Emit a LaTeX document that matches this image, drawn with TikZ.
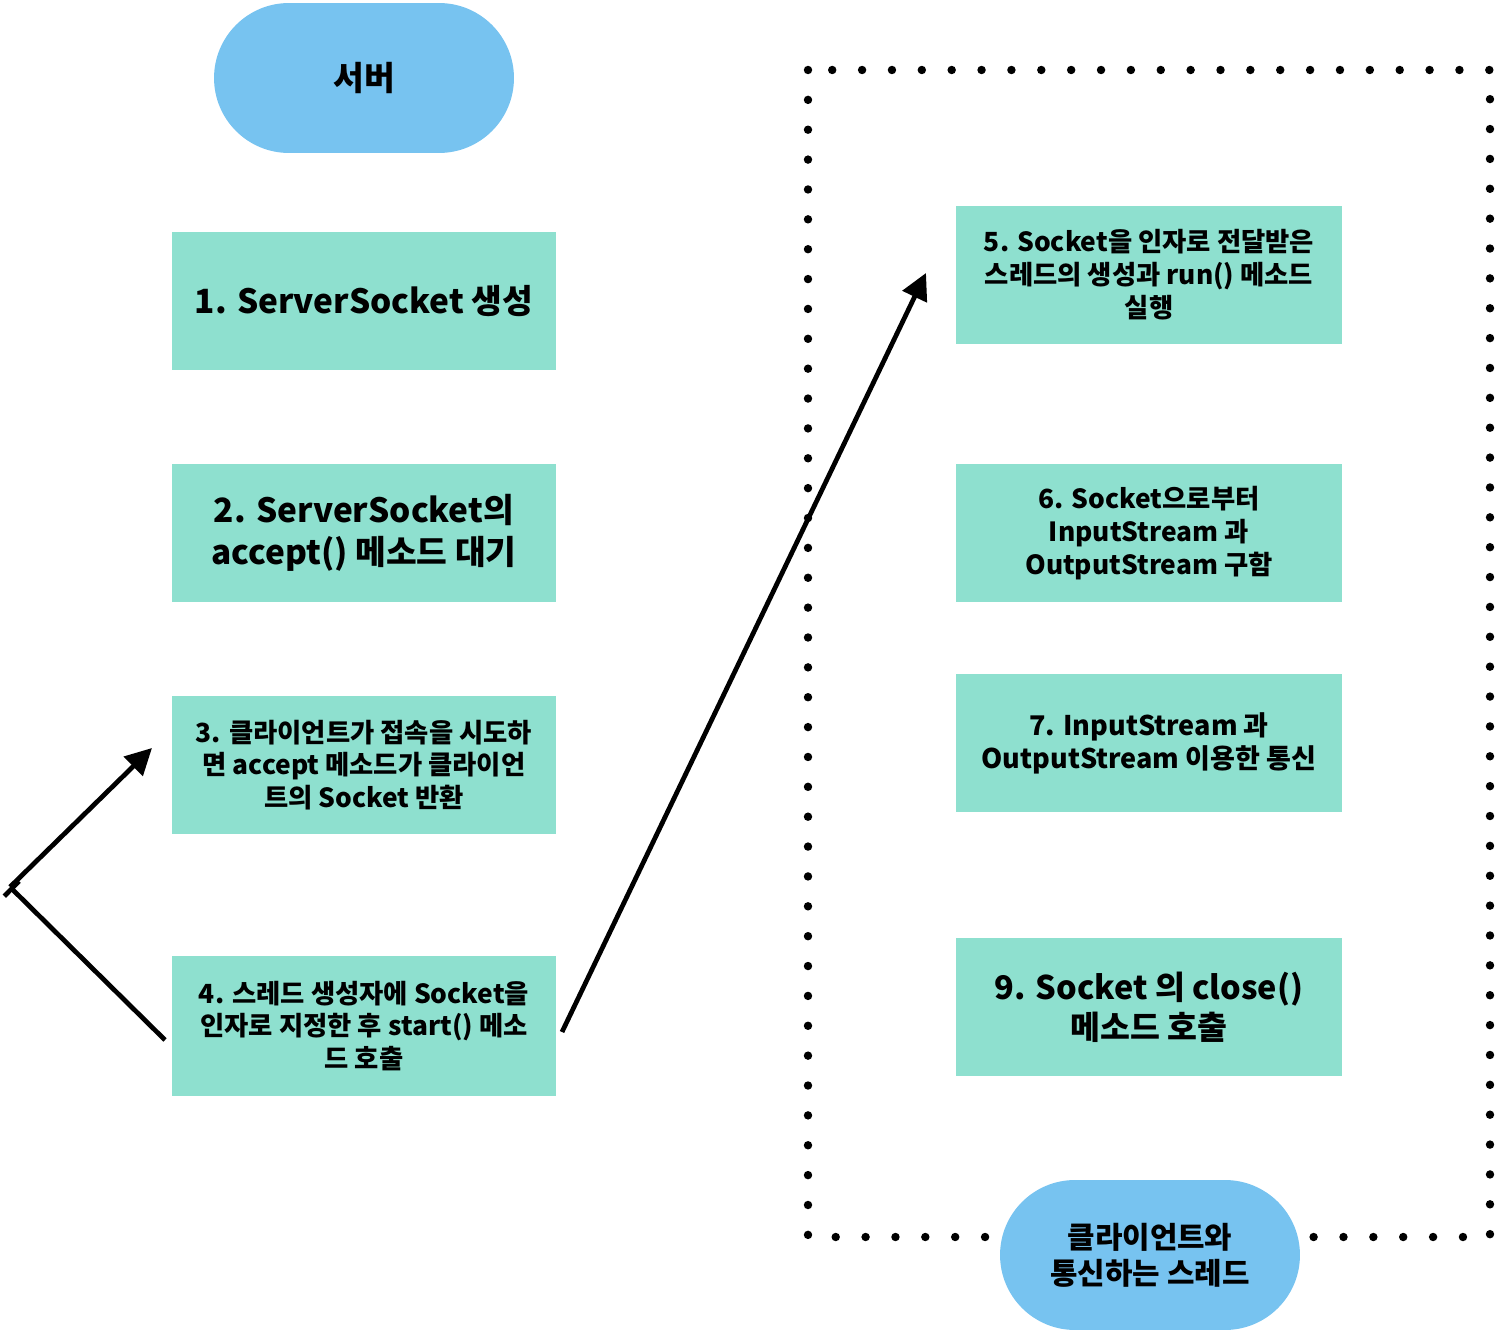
\documentclass[tikz,border=0pt]{standalone}
\usepackage{fontspec}
\setmainfont{Noto Sans CJK KR}
\usetikzlibrary{arrows.meta,positioning}
\definecolor{boxgreen}{HTML}{8EE0CF}
\definecolor{pillblue}{HTML}{77C3F0}

\begin{document}
\begin{tikzpicture}[
    x=0.02cm, y=-0.02cm,
    box/.style={fill=boxgreen, minimum width=7.68cm, minimum height=2.76cm, inner sep=0pt, align=center},
    bigtext/.style={font=\bfseries\fontsize{19}{24}\selectfont},
    smalltext/.style={font=\bfseries\fontsize{15}{18.7}\selectfont},
    pill/.style={fill=pillblue, rounded corners=1.5cm, minimum width=6cm, minimum height=3cm, inner sep=0pt, align=center},
    link/.style={line width=2.7pt, -{Triangle[length=15pt, width=15pt]}},
]
\useasboundingbox (0,0) rectangle (1498,1334);

% Thread frame
\draw[line width=4.8pt, line cap=round, dash pattern=on 0pt off 17pt]
  (808,70) rectangle (1490,1237);

% Server side
\node[pill, font=\bfseries\fontsize{19}{24}\selectfont] (server) at (364,78) {서버};
\node[box, bigtext] (accept1) at (364,301) {1. ServerSocket 생성};
\node[box, bigtext] (accept2) at (364,533) {2. ServerSocket의\\accept() 메소드 대기};
\node[box, smalltext] (accept3) at (364,765) {3. 클라이언트가 접속을 시도하\\면 accept 메소드가 클라이언\\트의 Socket 반환};
\node[box, smalltext, minimum height=2.8cm] (accept4) at (364,1026) {4. 스레드 생성자에 Socket을\\인자로 지정한 후 start() 메소\\드 호출};

% Thread side
\node[box, smalltext, minimum width=7.72cm] (thread5) at (1149,275) {5. Socket을 인자로 전달받은\\스레드의 생성과 run() 메소드\\실행};
\node[box, smalltext, minimum width=7.72cm] (thread6) at (1149,533) {6. Socket으로부터\\InputStream 과\\OutputStream 구함};
\node[box, minimum width=7.72cm, font=\bfseries\fontsize{15.4}{18.7}\selectfont] (thread7) at (1149,743) {7. InputStream 과\\OutputStream 이용한 통신};
\node[box, minimum width=7.72cm, font=\bfseries\fontsize{18.5}{22.7}\selectfont] (thread9) at (1149,1007) {9. Socket 의 close()\\메소드 호출};
\node[pill, font=\bfseries\fontsize{17}{20.4}\selectfont] (client) at (1150,1255) {클라이언트와\\통신하는 스레드};

% Connectors
\coordinate (fork) at (10,887);
\coordinate (in3) at (152,748);
\coordinate (out4) at (165,1040);
\coordinate (from4) at (562,1032);
\coordinate (to5) at (926,273);
\draw[link] (fork) -- (in3);
\draw[line width=2.7pt, {Bar[width=12pt]}-] (fork) -- (out4);
\draw[link] (from4) -- (to5);
\end{tikzpicture}
\end{document}
